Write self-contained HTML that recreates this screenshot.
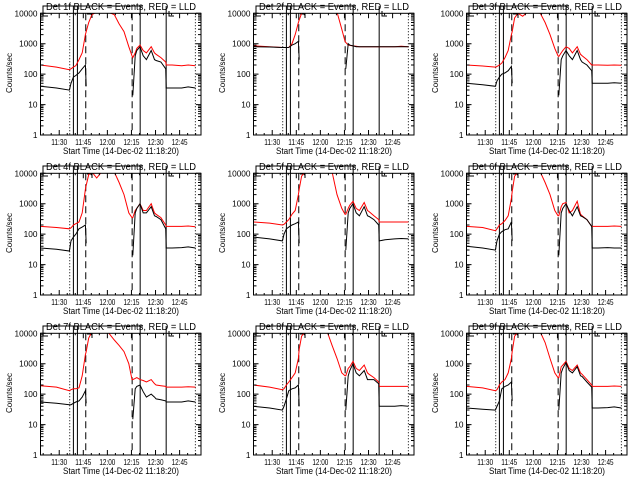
<!DOCTYPE html>
<html><head><meta charset="utf-8"><style>
html,body{margin:0;padding:0;background:#fff;}
svg{display:block;font-family:"Liberation Sans",sans-serif;}
</style></head><body>
<svg id="fig" width="640" height="480" viewBox="0 0 640 480"></svg>
<script>
const times=[0,10,18,19,20.5,22,24,26,28,28.5,30,32,35,38,42,46,49,52,55,57,57.5,59,60,62,64,66,69,71,72,75,78,78.3,82,88,92,96.5];
const N=null;
const detLabels=['1f','2f','3f','4f','5f','6f','7f','8f','9f'];
const red1=[200,170,140,150,170,190,300,500,2000,2500,5000,9000,11000,11000,11000,9000,4500,2500,800,400,350,500,700,900,600,500,800,500,450,350,250,200,200,190,200,190];
const blk1=[40,35,30,50,80,90,110,150,200,40,N,N,N,N,N,N,N,N,N,N,20,400,600,800,400,300,600,300,280,250,150,35,35,35,38,35];
const red2=[850,800,750,750,750,760,1000,2000,5000,6000,10000,11000,11000,11000,11000,11000,11000,11000,3000,1200,1100,900,880,850,820,800,800,800,800,800,800,800,800,800,820,800];
const blk2=[800,780,750,750,750,760,900,1000,1200,300,N,N,N,N,N,N,N,N,N,N,150,1000,900,850,800,800,800,800,800,800,800,800,800,800,800,800];
const red3=[200,185,170,180,200,230,350,600,2000,2500,7000,10000,8000,11000,11000,10000,5000,2000,700,400,380,500,600,800,700,500,800,450,400,300,200,200,200,195,200,195];
const blk3=[50,45,40,60,80,100,110,130,180,50,N,N,N,N,N,N,N,N,N,N,20,300,400,600,400,300,600,300,250,200,130,50,50,50,52,50];
const red4=[180,165,150,160,200,220,250,500,3000,4000,9000,11000,7000,11000,11000,11000,5000,2000,500,350,350,600,700,1000,600,600,1000,500,450,350,200,180,180,180,185,175];
const blk4=[35,32,28,60,80,100,150,170,200,50,N,N,N,N,N,N,N,N,N,N,20,500,700,1000,500,500,800,400,380,300,150,35,35,36,38,35];
const red5=[250,230,200,210,250,300,450,600,2000,3000,8000,11000,11000,11000,11000,11000,11000,2000,700,450,450,700,900,1200,700,600,1100,600,550,400,300,250,250,250,250,250];
const blk5=[80,70,60,100,150,170,200,220,250,50,N,N,N,N,N,N,N,N,N,N,30,500,700,1000,500,400,800,400,380,300,200,60,65,70,72,70];
const red6=[180,165,130,150,200,220,280,400,1500,2500,8000,11000,11000,11000,11000,11000,5000,2000,600,400,400,800,1000,1100,500,600,1200,450,400,300,180,180,180,180,185,180];
const blk6=[40,35,30,60,100,120,140,150,250,60,N,N,N,N,N,N,N,N,N,N,20,500,700,1000,600,400,800,400,380,300,180,35,35,36,35,35];
const red7=[190,170,130,140,150,150,160,400,2000,2500,7000,11000,11000,11000,11000,6000,4000,2500,1000,300,300,330,350,300,280,250,300,220,200,190,180,170,170,170,175,170];
const blk7=[55,50,45,45,50,55,60,80,130,50,N,N,N,N,N,N,N,N,N,N,15,150,180,200,120,80,100,80,70,65,60,55,55,55,60,55];
const red8=[200,170,140,150,200,250,350,500,1500,3000,8000,11000,11000,11000,11000,11000,4000,1500,500,400,400,700,800,1200,700,600,900,500,450,350,250,180,180,180,180,180];
const blk8=[40,35,30,40,70,130,150,160,200,40,N,N,N,N,N,N,N,N,N,N,30,400,600,1000,500,400,600,300,300,300,220,40,40,40,42,40];
const red9=[180,160,130,140,200,250,300,500,1500,2500,8000,11000,11000,11000,11000,11000,5000,1500,500,350,350,800,900,1200,700,600,900,500,450,300,200,180,180,180,185,180];
const blk9=[35,32,30,40,60,150,180,200,250,60,N,N,N,N,N,N,N,N,N,N,30,500,700,1100,600,500,800,400,380,250,170,35,35,36,38,35];
const redSeries=[red1,red2,red3,red4,red5,red6,red7,red8,red9];
const blkSeries=[blk1,blk2,blk3,blk4,blk5,blk6,blk7,blk8,blk9];
const yTickLabels=['1','10','100','1000','10000'];
const xTickLabels=['11:30','11:45','12:00','12:15','12:30','12:45'];
const xTickMinutes=[11.667,26.667,41.667,56.667,71.667,86.667];
const dottedLines=[18.2,96.5];
const solidLines=[20.5,23,62.1,78.3];
const dashedLines=[28.2,57.1];

const NS='http://www.w3.org/2000/svg';
const svg=document.getElementById('fig');
function mk(tag,attrs,parent){const e=document.createElementNS(NS,tag);for(const k in attrs)e.setAttribute(k,attrs[k]);(parent||svg).appendChild(e);return e;}
const PL=40.5,PW=160.5,PT=13.3,PH=121.7,TMAX=100;

for(let p=0;p<9;p++){
  const ox=[0,213,426][p%3], oy=[0,160,320][Math.floor(p/3)];
  const L=ox+PL,R=L+PW,T=oy+PT,B=T+PH;
  const xs=t=>L+t/TMAX*PW;
  const ys=v=>B-Math.log10(v)/4*PH;
  const g=mk('g',{});
  
  
  const cid='clip'+p;
  const cp=mk('clipPath',{id:cid},g);mk('rect',{x:L,y:T,width:PW,height:PH},cp);
  dottedLines.forEach(t=>{const l=mk('line',{x1:xs(t),x2:xs(t),y1:T,y2:B,stroke:'#000','stroke-width':1,'stroke-dasharray':'1,2'},g);
    });
  solidLines.forEach(t=>{const l=mk('line',{x1:xs(t),x2:xs(t),y1:oy+6,y2:B,stroke:'#000','stroke-width':1},g);
    });
  dashedLines.forEach(t=>{const l=mk('line',{x1:xs(t),x2:xs(t),y1:T,y2:B,stroke:'#000','stroke-width':1,'stroke-dasharray':'7,4'},g);
    });
  mk('path',{d:`M${ox+43},${oy+16}V${oy+6}H${ox+143}M${ox+43},${oy+16}H${ox+48}M${ox+169},${oy+11}V${oy+16}H${ox+174}M${ox+87},${oy+14}H${ox+92}V${oy+18}`,fill:'none',stroke:'#000','stroke-width':1},g);
  function drawSeries(vals,color,name){
    let d='',pen=false;
    vals.forEach((v,i)=>{if(v===null){pen=false;return;}d+=(pen?'L':'M')+xs(times[i]).toFixed(1)+','+ys(v).toFixed(1);pen=true;});
    const e=mk('path',{d:d,fill:'none',stroke:color,'stroke-width':1,'clip-path':`url(#${cid})`},g);
    
  }
  drawSeries(redSeries[p],'#f00','lld-series');
  drawSeries(blkSeries[p],'#000','events-series');
  const box=mk('rect',{x:L,y:T,width:PW,height:PH,fill:'none',stroke:'#000','stroke-width':1},g);
  
  let td='';
  for(let dec=0;dec<=4;dec++){
    const y=ys(Math.pow(10,dec));
    td+=`M${L},${y}h5M${R},${y}h-5`;
    if(dec<4)for(let m=2;m<10;m++){const yy=ys(m*Math.pow(10,dec));td+=`M${L},${yy}h3M${R},${yy}h-3`;}
    const lab=yTickLabels[dec];
    const tl=mk('text',{x:L-3,y:y+3,'font-size':8,'text-anchor':'end',fill:'#000',textLength:(lab.length*4.6).toFixed(1),lengthAdjust:'spacingAndGlyphs'},g);
    tl.textContent=lab;
    
  }
  for(let t=1.667;t<TMAX;t+=5){td+=`M${xs(t)},${B}v-2M${xs(t)},${T}v2`;}
  xTickMinutes.forEach((t,i)=>{td+=`M${xs(t)},${B}v-5M${xs(t)},${T}v5`;
    const xl=mk('text',{x:xs(t),y:B+10,'font-size':8,'text-anchor':'middle',fill:'#000',textLength:16,lengthAdjust:'spacingAndGlyphs'},g);
    xl.textContent=xTickLabels[i];
    });
  mk('path',{d:td,stroke:'#000','stroke-width':1,fill:'none'},g);
  const ti=mk('text',{x:ox+121,y:oy+10,'font-size':10,'text-anchor':'middle',fill:'#000',textLength:150,lengthAdjust:'spacingAndGlyphs'},g);
  ti.textContent='Det '+detLabels[p]+' BLACK = Events, RED = LLD';
  
  const xt=mk('text',{x:ox+121,y:oy+154,'font-size':9.5,'text-anchor':'middle',fill:'#000',textLength:116,lengthAdjust:'spacingAndGlyphs'},g);
  xt.textContent='Start Time (14-Dec-02 11:18:20)';
  
  const yt=mk('text',{x:0,y:0,'font-size':8,'text-anchor':'middle',fill:'#000',textLength:40,lengthAdjust:'spacingAndGlyphs',transform:`translate(${ox+12},${oy+73}) rotate(-90)`},g);
  yt.textContent='Counts/sec';
  
}
</script>
</body></html>
